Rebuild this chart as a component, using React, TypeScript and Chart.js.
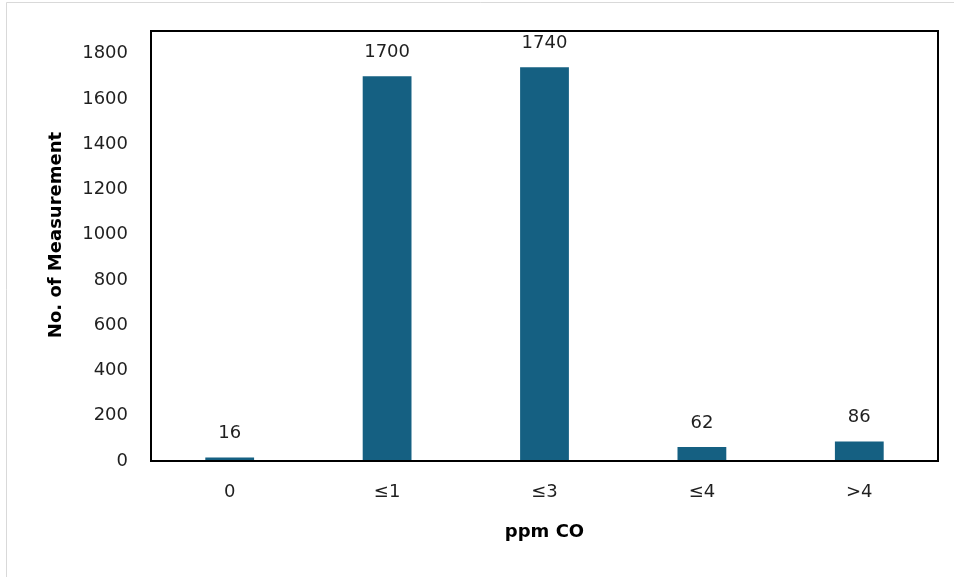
import React, { useEffect, useRef } from "react";
import { Chart, registerables } from "chart.js";

Chart.register(...registerables);

const categories = ["0", "≤1", "≤3", "≤4", ">4"];
const counts = [16, 1700, 1740, 62, 86];
const yTickValues = [0, 200, 400, 600, 800, 1000, 1200, 1400, 1600, 1800];
const yMax = 1900;
const xTitle = "ppm CO";
const yTitle = "No. of Measurement";

const BAR_COLOR = "#156082";
const TEXT_COLOR = "#1f1f1f";
const NUM_FONT = "'DejaVu Sans', sans-serif";
const TITLE_FONT = "'DejaVu Sans', sans-serif";

const decorPlugin = {
  id: "decor",
  beforeDraw(chart: any) {
    const ctx = chart.ctx;
    ctx.save();
    ctx.fillStyle = "#ffffff";
    ctx.fillRect(0, 0, chart.width, chart.height);
    ctx.strokeStyle = "#d9d9d9";
    ctx.lineWidth = 1;
    ctx.beginPath();
    ctx.moveTo(6.5, chart.height);
    ctx.lineTo(6.5, 2.5);
    ctx.lineTo(chart.width, 2.5);
    ctx.stroke();
    ctx.restore();
  },
  afterDatasetsDraw(chart: any) {
    const ctx = chart.ctx;
    const a = chart.chartArea;
    ctx.save();
    ctx.strokeStyle = "#000000";
    ctx.lineWidth = 2;
    ctx.strokeRect(a.left, a.top, a.right - a.left, a.bottom - a.top);
    const meta = chart.getDatasetMeta(0);
    const data = chart.data.datasets[0].data;
    ctx.fillStyle = TEXT_COLOR;
    ctx.font = `18px ${NUM_FONT}`;
    ctx.textAlign = "center";
    ctx.textBaseline = "middle";
    meta.data.forEach((bar: any, i: number) => {
      ctx.fillText(String(data[i]), bar.x, bar.y - 24);
    });
    // y-axis title
    ctx.fillStyle = "#000000";
    ctx.font = `bold 18px ${TITLE_FONT}`;
    ctx.translate(56.5, 235);
    ctx.rotate(-Math.PI / 2);
    ctx.fillText(yTitle, 0, 0);
    ctx.restore();
  },
};

export default function App() {
  const canvasRef = useRef<HTMLCanvasElement | null>(null);

  useEffect(() => {
    document.body.style.margin = "0";
    const canvas = canvasRef.current;
    if (!canvas) return;
    const chart = new Chart(canvas, {
      type: "bar",
      data: {
        labels: categories,
        datasets: [
          {
            data: counts,
            backgroundColor: BAR_COLOR,
            borderWidth: 0,
            barPercentage: 0.31,
            categoryPercentage: 1,
          },
        ],
      },
      options: {
        responsive: false,
        animation: false,
        devicePixelRatio: 1,
        layout: { padding: { left: 0, top: 31, right: 16, bottom: 0 } },
        plugins: {
          legend: { display: false },
          tooltip: { enabled: false },
        },
        scales: {
          x: {
            grid: { display: false, drawTicks: false },
            border: { display: false },
            ticks: {
              color: TEXT_COLOR,
              font: { family: NUM_FONT, size: 18 },
              padding: 21,
              maxRotation: 0,
            },
            title: {
              display: true,
              text: xTitle,
              color: "#000000",
              font: { family: TITLE_FONT, size: 18, weight: "bold" },
              padding: { top: 0, bottom: 34 },
            },
            afterFit(scale: any) {
              scale.height = 116;
              scale.paddingLeft = 0;
              scale.paddingRight = 0;
            },
          },
          y: {
            min: 0,
            max: yMax,
            grid: { display: false, drawTicks: false },
            border: { display: false },
            afterBuildTicks(scale: any) {
              scale.ticks = yTickValues.map((v) => ({ value: v }));
            },
            ticks: {
              color: TEXT_COLOR,
              font: { family: NUM_FONT, size: 18 },
              padding: 23,
              callback: (v: any) => String(v),
            },
            title: { display: false },
            afterFit(scale: any) {
              scale.width = 151;
              scale.paddingTop = 0;
              scale.paddingBottom = 0;
            },
          },
        },
      },
      plugins: [decorPlugin],
    });
    return () => chart.destroy();
  }, []);

  return (
    <div style={{ width: 954, height: 577 }}>
      <canvas ref={canvasRef} width={954} height={577} style={{ display: "block" }} />
    </div>
  );
}
